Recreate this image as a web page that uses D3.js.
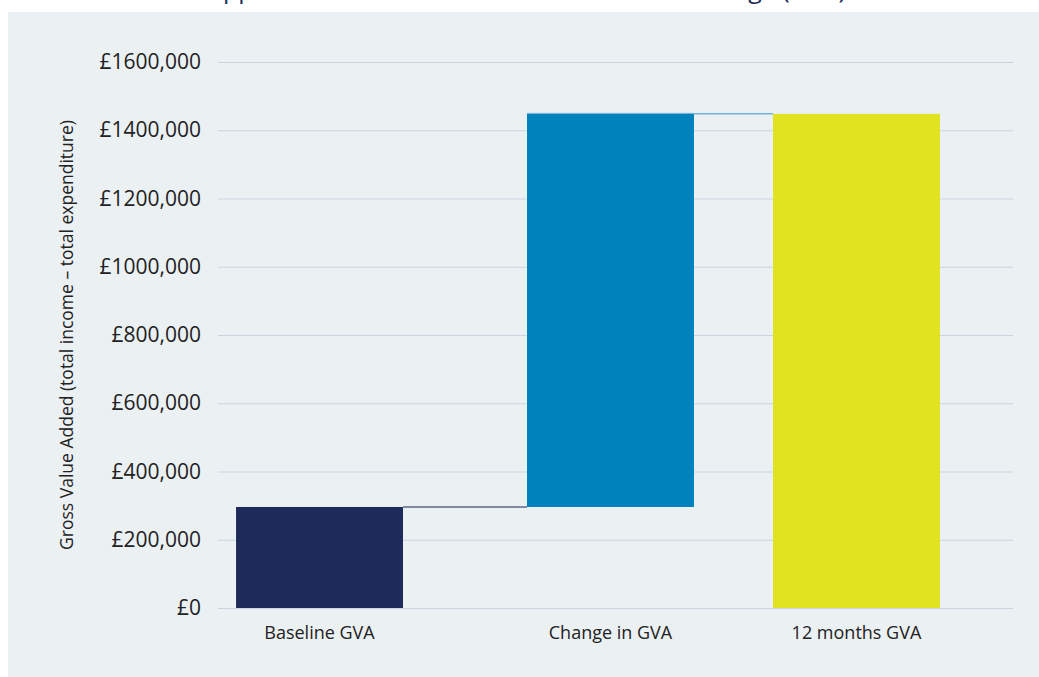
<!DOCTYPE html>
<html>
<head>
<meta charset="utf-8">
<script src="https://cdn.jsdelivr.net/npm/d3@7"></script>
<style>
  html, body { margin: 0; padding: 0; background: #ffffff; }
  svg { display: block; font-family: "Open Sans", Lato, sans-serif; }
</style>
</head>
<body>
<svg id="chart" width="1039" height="677"></svg>
<script>
// Waterfall: baseline GVA, the change over the year, and the resulting 12 month GVA
const categories = ["Baseline GVA", "Change in GVA", "12 months GVA"];
const barStarts  = [0, 296000, 0];
const barEnds    = [296000, 1448000, 1448000];
const barColors  = ["#1e2b5a", "#0082bc", "#e1e320"];
const linkColors = ["#5d6787", "#6fb4da"];
const yTicks     = [0, 200000, 400000, 600000, 800000, 1000000, 1200000, 1400000, 1600000];
const yTickLabels = ["£0", "£200,000", "£400,000", "£600,000", "£800,000",
                     "£1000,000", "£1200,000", "£1400,000", "£1600,000"];
const titleText  = "Supported businesses: Gross Value Added change (GVA)";
const yTitle     = "Gross Value Added (total income – total expenditure)";

const W = 1039, H = 677;
const plot = { left: 218, right: 1013, top: 62, bottom: 608 };
const pw = plot.right - plot.left;
const FONT = '"Open Sans", Lato, sans-serif';

const svg = d3.select("#chart");

// panel background
svg.append("rect")
  .attr("x", 8).attr("y", 12)
  .attr("width", W - 8).attr("height", H - 12)
  .attr("fill", "#ebf0f3");

// heading above the panel, running off the top edge
svg.append("text")
  .attr("x", 520).attr("y", -2)
  .attr("text-anchor", "middle")
  .attr("font-size", 25)
  .attr("fill", "#1e2b5a")
  .text(titleText);

const y = d3.scaleLinear().domain([0, 1600000]).range([plot.bottom, plot.top]);

// category centres across the plot width
const xCenter = d3.scaleOrdinal()
  .domain(categories)
  .range([0.1277, 0.4937, 0.8031].map(f => plot.left + f * pw));
const barW = 0.21 * pw;

// y axis with gridlines
const yAxis = d3.axisLeft(y)
  .tickValues(yTicks)
  .tickFormat((d, i) => yTickLabels[i])
  .tickSize(-pw)
  .tickPadding(17);

const gy = svg.append("g")
  .attr("transform", `translate(${plot.left},0)`)
  .call(yAxis)
  .attr("font-family", FONT);
gy.select(".domain").remove();
gy.selectAll(".tick line")
  .attr("stroke", "#c8d5df")
  .attr("stroke-width", 1.2);
gy.selectAll(".tick text")
  .attr("font-size", 21)
  .attr("fill", "#222222");

// y axis title
svg.append("text")
  .attr("transform", `translate(73,${(plot.top + plot.bottom) / 2}) rotate(-90)`)
  .attr("text-anchor", "middle")
  .attr("font-size", 17.5)
  .attr("fill", "#222222")
  .text(yTitle);

// connectors between consecutive bars
const links = d3.range(categories.length - 1).map(i => ({
  from: categories[i], to: categories[i + 1], level: barEnds[i], color: linkColors[i]
}));
svg.append("g").selectAll("line")
  .data(links)
  .join("line")
  .attr("x1", d => xCenter(d.from) + barW / 2)
  .attr("x2", d => xCenter(d.to) - barW / 2)
  .attr("y1", d => y(d.level))
  .attr("y2", d => y(d.level))
  .attr("stroke", d => d.color)
  .attr("stroke-width", 1.5);

// bars
svg.append("g").selectAll("rect")
  .data(categories)
  .join("rect")
  .attr("x", d => xCenter(d) - barW / 2)
  .attr("width", barW)
  .attr("y", (d, i) => y(barEnds[i]))
  .attr("height", (d, i) => y(barStarts[i]) - y(barEnds[i]))
  .attr("fill", (d, i) => barColors[i]);

// light edge along the top of the change bar
svg.append("line")
  .attr("x1", xCenter(categories[1]) - barW / 2)
  .attr("x2", xCenter(categories[1]) + barW / 2)
  .attr("y1", y(barEnds[1]) - 0.5)
  .attr("y2", y(barEnds[1]) - 0.5)
  .attr("stroke", linkColors[1])
  .attr("stroke-width", 1);

// category labels
svg.append("g").selectAll("text")
  .data(categories)
  .join("text")
  .attr("x", d => xCenter(d))
  .attr("y", 639)
  .attr("text-anchor", "middle")
  .attr("font-size", 18)
  .attr("fill", "#222222")
  .text(d => d);
</script>
</body>
</html>
